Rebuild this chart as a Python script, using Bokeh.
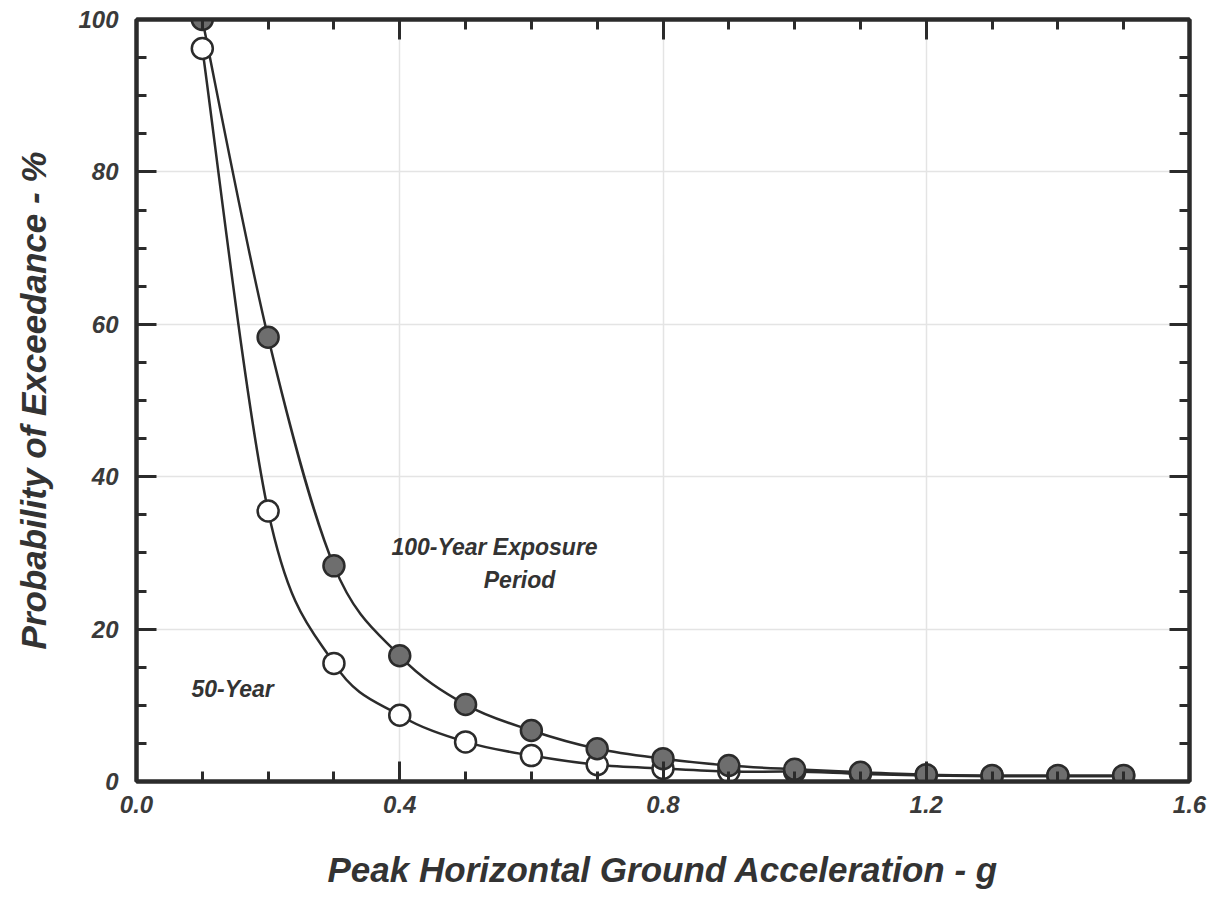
from bokeh.plotting import figure
from bokeh.models import LinearAxis, Range1d, FixedTicker, ColumnDataSource
from bokeh.core.properties import value
from bokeh.embed import file_html
from bokeh.resources import INLINE

# Data
pga = [0.1, 0.2, 0.3, 0.4, 0.5, 0.6, 0.7, 0.8, 0.9, 1.0, 1.1, 1.2, 1.3, 1.4, 1.5]
pe_100yr = [100.0, 58.3, 28.3, 16.5, 10.1, 6.7, 4.3, 3.0, 2.1, 1.6, 1.2, 0.9, 0.8, 0.8, 0.8]
pe_50yr = [96.2, 35.5, 15.5, 8.7, 5.2, 3.4, 2.2, 1.7, 1.3, 1.3, 1.0, 0.8, 0.7, 0.7, 0.7]
x_ticks = [0.0, 0.4, 0.8, 1.2, 1.6]
y_ticks = [0, 20, 40, 60, 80, 100]
x_minor = [0.1, 0.2, 0.3, 0.5, 0.6, 0.7, 0.9, 1.0, 1.1, 1.3, 1.4, 1.5]
y_minor = [5, 10, 15, 25, 30, 35, 45, 50, 55, 65, 70, 75, 85, 90, 95]
x_title = "Peak Horizontal Ground Acceleration - g"
y_title = "Probability of Exceedance - %"

FONT = "Liberation Sans"
INK = "#2b2b2b"

p = figure(width=1209, height=891, output_backend="svg", toolbar_location=None,
           x_range=Range1d(0, 1.6), y_range=Range1d(0, 100),
           x_axis_label=x_title, y_axis_label=y_title,
           min_border_left=136, min_border_right=20, min_border_top=19, min_border_bottom=109)

p.background_fill_color = "white"
p.border_fill_color = "white"
p.outline_line_color = INK
p.outline_line_width = 4

p.xgrid.ticker = FixedTicker(ticks=x_ticks)
p.ygrid.ticker = FixedTicker(ticks=y_ticks)
p.grid.grid_line_color = "#e4e4e4"
p.grid.grid_line_width = 1.5


def style_axis(ax, ticks, minor, show_labels):
    ax.ticker = FixedTicker(ticks=ticks, minor_ticks=minor)
    ax.axis_line_color = INK
    ax.axis_line_width = 4
    ax.major_tick_in = 20
    ax.major_tick_out = 0
    ax.minor_tick_in = 10
    ax.minor_tick_out = 0
    ax.major_tick_line_color = INK
    ax.major_tick_line_width = 3
    ax.minor_tick_line_color = INK
    ax.minor_tick_line_width = 3
    if show_labels:
        ax.major_label_text_font = FONT
        ax.major_label_text_font_style = "bold italic"
        ax.major_label_text_font_size = "24px"
        ax.major_label_text_color = "#3a3a3a"
        ax.axis_label_text_font = FONT
        ax.axis_label_text_font_style = "bold italic"
        ax.axis_label_text_font_size = "35px"
        ax.axis_label_text_color = "#333333"
    else:
        ax.major_label_text_font_size = "0px"
        ax.major_label_text_alpha = 0


style_axis(p.xaxis[0], x_ticks, x_minor, True)
style_axis(p.yaxis[0], y_ticks, y_minor, True)
p.xaxis[0].major_label_overrides = {0.0: "0.0", 0.4: "0.4", 0.8: "0.8", 1.2: "1.2", 1.6: "1.6"}
p.xaxis[0].major_label_standoff = 14
p.xaxis[0].axis_label_standoff = 34
p.yaxis[0].major_label_standoff = 18
p.yaxis[0].axis_label_standoff = 22

top_ax = LinearAxis()
right_ax = LinearAxis()
style_axis(top_ax, x_ticks, x_minor, False)
style_axis(right_ax, y_ticks, y_minor, False)
p.add_layout(top_ax, "above")
p.add_layout(right_ax, "right")


def smooth_segments(xs, ys):
    """Catmull-Rom style Bezier segments through the data points."""
    n = len(xs)
    seg = dict(x0=[], y0=[], x1=[], y1=[], cx0=[], cy0=[], cx1=[], cy1=[])
    for i in range(n - 1):
        xm, ym = (xs[i - 1], ys[i - 1]) if i > 0 else (xs[i], ys[i])
        xp, yp = (xs[i + 2], ys[i + 2]) if i + 2 < n else (xs[i + 1], ys[i + 1])
        seg["x0"].append(xs[i]); seg["y0"].append(ys[i])
        seg["x1"].append(xs[i + 1]); seg["y1"].append(ys[i + 1])
        seg["cx0"].append(xs[i] + (xs[i + 1] - xm) / 6)
        seg["cy0"].append(ys[i] + (ys[i + 1] - ym) / 6)
        seg["cx1"].append(xs[i + 1] - (xp - xs[i]) / 6)
        seg["cy1"].append(ys[i + 1] - (yp - ys[i]) / 6)
    return ColumnDataSource(seg)


for ys in (pe_50yr, pe_100yr):
    p.bezier(x0="x0", y0="y0", x1="x1", y1="y1", cx0="cx0", cy0="cy0", cx1="cx1", cy1="cy1",
             source=smooth_segments(pga, ys), line_color=INK, line_width=2.5)

src50 = ColumnDataSource(dict(x=pga, y=pe_50yr))
src100 = ColumnDataSource(dict(x=pga, y=pe_100yr))
p.scatter("x", "y", source=src50, size=21, fill_color="white", line_color=INK, line_width=2.5)
p.scatter("x", "y", source=src100, size=21, fill_color="#6e6e6e", line_color=INK, line_width=2.5)

labels = ColumnDataSource(dict(
    x=[0.544, 0.582, 0.146],
    y=[30.8, 26.5, 12.2],
    t=["100-Year Exposure", "Period", "50-Year"],
))
p.text("x", "y", "t", source=labels, text_font=value(FONT), text_font_style="bold italic",
       text_font_size="23px", text_color="#333333", text_align="center", text_baseline="middle")

open("out.html", "w").write(file_html(p, INLINE))
